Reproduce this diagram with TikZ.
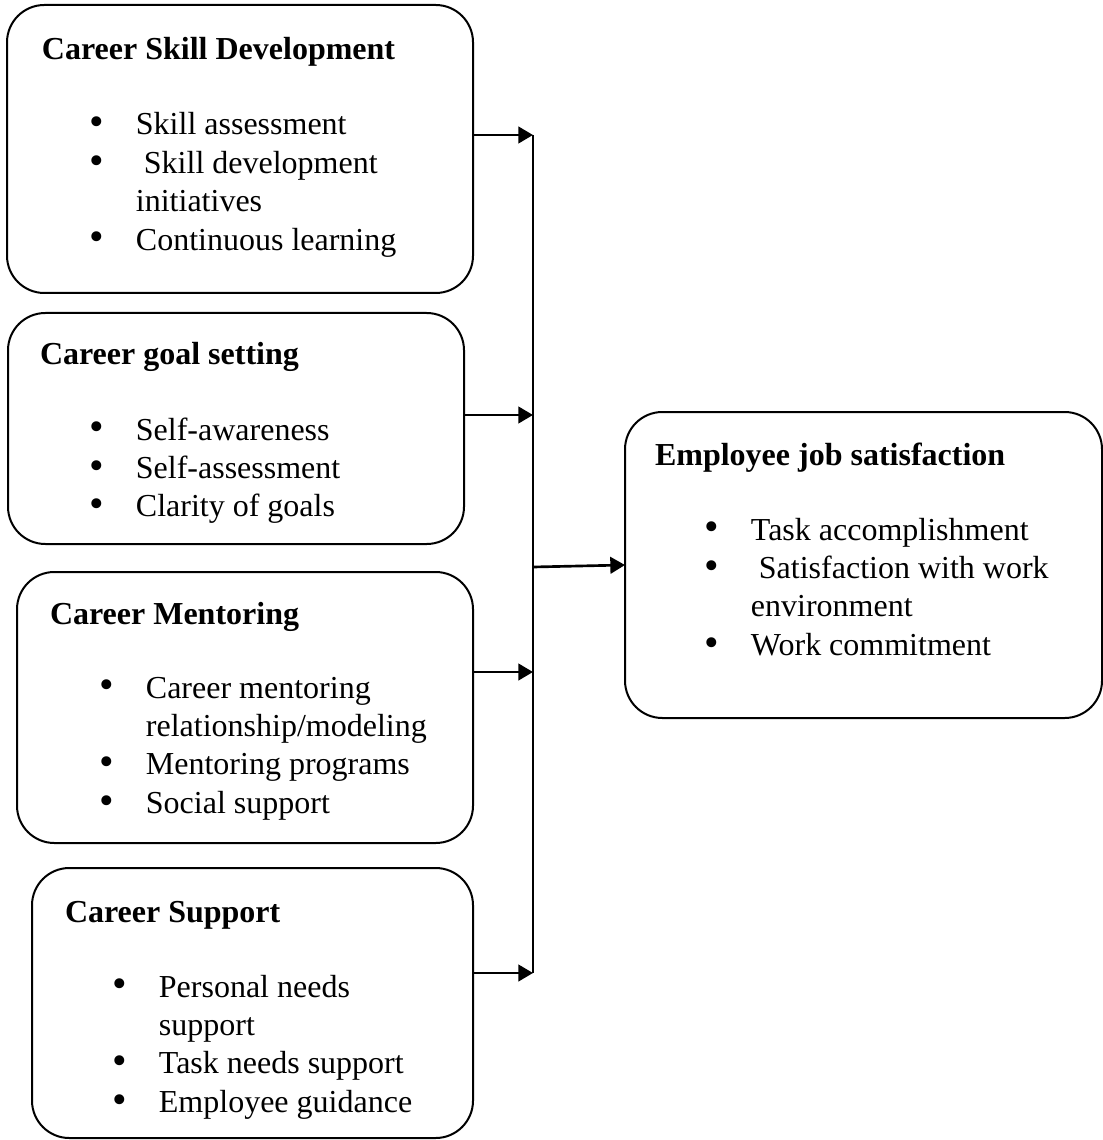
\documentclass[tikz,border=0pt]{standalone}
\usepackage{graphicx}
\usepackage{fontspec}
\setmainfont{Liberation Serif}
\usetikzlibrary{arrows.meta,positioning}

% slightly larger Word-like bullet
\newcommand{\dotitem}{\raisebox{-0.3pt}{\scalebox{1.3}{\textbullet}}}

\begin{document}
\begin{tikzpicture}[
  x=0.375pt, y=-0.375pt,
  >={Triangle[length=5.5pt,width=6.2pt]},
  every node/.style={font=\fontsize{12}{14.4}\selectfont,inner sep=0pt,outer sep=0pt},
  factor/.style={draw,line width=0.75pt,rounded corners=14pt,anchor=north west},
  heading/.style={font=\fontsize{12}{14.4}\selectfont\bfseries,anchor=base west},
  points/.style={anchor=base west},
  feed/.style={->,line width=1pt},
  ]
  \useasboundingbox (0,0) rectangle (1102,1140);

  % the four career factors on the left
  \node[factor,minimum width=174.75pt,minimum height=108pt] (csd) at (7,5) {};
  \node[factor,minimum width=171pt,minimum height=86.625pt] (cgs) at (8,313) {};
  \node[factor,minimum width=171pt,minimum height=101.625pt] (cm) at (17,572) {};
  \node[factor,minimum width=165.375pt,minimum height=101.25pt] (cs) at (32,868) {};
  % outcome box, cut by the right border
  \node[factor,minimum width=178.875pt,minimum height=114.75pt] (ejs) at (625,412) {};

  \node[heading] (csdT) at ([shift={(35,55)}]csd.north west) {Career Skill Development};
  \node[points] (csdL) at ([shift={(82,130)}]csd.north west) {%
    \begin{tabular}[t]{@{}p{17.6pt}@{}l@{}}
      \dotitem & Skill assessment\\
      \dotitem & \ Skill development\\
               & initiatives\\
      \dotitem & Continuous learning
    \end{tabular}};

  \node[heading] (cgsT) at ([shift={(32,52)}]cgs.north west) {Career goal setting};
  \node[points] (cgsL) at ([shift={(81,127)}]cgs.north west) {%
    \begin{tabular}[t]{@{}p{17.6pt}@{}l@{}}
      \dotitem & Self-awareness\\
      \dotitem & Self-assessment\\
      \dotitem & Clarity of goals
    \end{tabular}};

  \node[heading] (cmT) at ([shift={(33,52)}]cm.north west) {Career Mentoring};
  \node[points] (cmL) at ([shift={(82,126)}]cm.north west) {%
    \begin{tabular}[t]{@{}p{17.6pt}@{}l@{}}
      \dotitem & Career mentoring\\
               & relationship/modeling\\
      \dotitem & Mentoring programs\\
      \dotitem & Social support
    \end{tabular}};

  \node[heading] (csT) at ([shift={(33,54)}]cs.north west) {Career Support};
  \node[points] (csL) at ([shift={(80,129)}]cs.north west) {%
    \begin{tabular}[t]{@{}p{17.6pt}@{}l@{}}
      \dotitem & Personal needs\\
               & support\\
      \dotitem & Task needs support\\
      \dotitem & Employee guidance
    \end{tabular}};

  \node[heading] (ejsT) at ([shift={(30,53)}]ejs.north west) {Employee job satisfaction};
  \node[points] (ejsL) at ([shift={(79,128)}]ejs.north west) {%
    \begin{tabular}[t]{@{}p{17.6pt}@{}l@{}}
      \dotitem & Task accomplishment\\
      \dotitem & \ Satisfaction with work\\
               & environment\\
      \dotitem & Work commitment
    \end{tabular}};

  % collector line
  \coordinate (j1) at (533,135);
  \coordinate (j2) at (533,415);
  \coordinate (j3) at (533,672);
  \coordinate (j4) at (533,973);
  \coordinate (jm) at (533,567);

  \draw[line width=0.75pt] (j1) -- (j4);
  \draw[feed] (csd.east |- j1) -- (j1);
  \draw[feed] (cgs.east |- j2) -- (j2);
  \draw[feed] (cm.east |- j3) -- (j3);
  \draw[feed] (cs.east |- j4) -- (j4);
  \draw[feed] (jm) -- (ejs.west);

\end{tikzpicture}
\end{document}
